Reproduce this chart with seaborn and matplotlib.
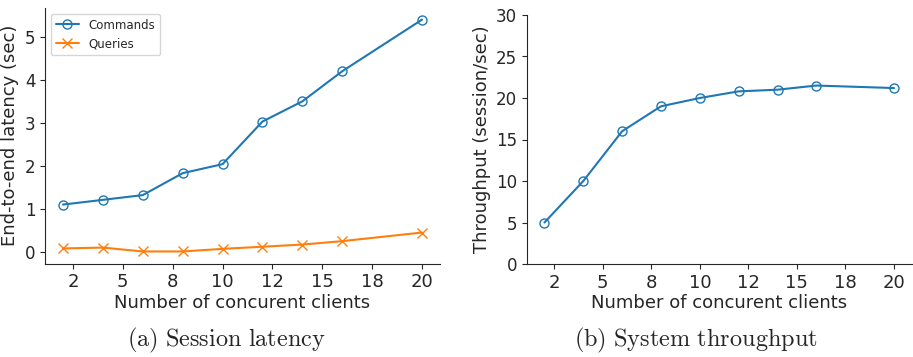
import matplotlib
matplotlib.use("Agg")
import matplotlib.pyplot as plt
import seaborn as sns
import pandas as pd
from matplotlib.ticker import MultipleLocator, FormatStrFormatter

clients = [2, 4, 6, 8, 10, 12, 14, 16, 20]
commands_latency = [1.10, 1.21, 1.32, 1.83, 2.04, 3.03, 3.50, 4.20, 5.40]
queries_latency = [0.08, 0.10, 0.01, 0.01, 0.07, 0.12, 0.17, 0.25, 0.45]
throughput = [5.0, 10.0, 16.0, 19.0, 20.0, 20.8, 21.0, 21.5, 21.2]

sns.set_style("ticks")
plt.rcParams["font.family"] = ["DejaVu Sans"]
plt.rcParams["mathtext.fontset"] = "cm"

blue = "#1f77b4"
orange = "#ff7f0e"

fig = plt.figure(figsize=(9.13, 3.57), dpi=100)
W, H = 913, 357
ax1 = fig.add_axes([45 / W, 1 - 263.5 / H, (440 - 45) / W, (263.5 - 8) / H])
ax2 = fig.add_axes([527 / W, 1 - 264 / H, (911.5 - 527) / W, (264 - 15) / H])

df = pd.DataFrame({"clients": clients, "Commands": commands_latency,
                   "Queries": queries_latency, "Throughput": throughput})

sns.lineplot(data=df, x="clients", y="Commands", ax=ax1, color=blue, marker="o",
             markersize=6.5, markerfacecolor="none", markeredgecolor=blue,
             markeredgewidth=1, label="Commands", lw=1.5)
sns.lineplot(data=df, x="clients", y="Queries", ax=ax1, color=orange, marker="x",
             markersize=6.5, markeredgecolor=orange, markeredgewidth=1,
             label="Queries", lw=1.5)
sns.lineplot(data=df, x="clients", y="Throughput", ax=ax2, color=blue, marker="o",
             markersize=6.5, markerfacecolor="none", markeredgecolor=blue,
             markeredgewidth=1, lw=1.5)

for ax in (ax1, ax2):
    ax.xaxis.set_major_locator(MultipleLocator(2.5))
    ax.xaxis.set_major_formatter(FormatStrFormatter("%.0f"))
    ax.set_xlim(1.1, 20.9)
    ax.set_xlabel("Number of concurent clients", fontsize=13, labelpad=2)
    ax.tick_params(axis="x", labelsize=13)
    ax.tick_params(axis="y", labelsize=12)
    sns.despine(ax=ax)

ax1.set_ylim(-0.27, 5.67)
ax1.yaxis.set_major_locator(MultipleLocator(1))
ax1.set_ylabel("End-to-end latency (sec)", fontsize=13)
ax1.legend(loc="upper left", fontsize=8.5, frameon=True)

ax2.set_ylim(0, 30)
ax2.yaxis.set_major_locator(MultipleLocator(5))
ax2.set_ylabel("Throughput (session/sec)", fontsize=13)

fig.text(226 / W, 1 - 340 / H, r"$\mathrm{(a)\ Session\ latency}$", ha="center",
         va="center", fontsize=17.5)
fig.text(696 / W, 1 - 340 / H, r"$\mathrm{(b)\ System\ throughput}$", ha="center",
         va="center", fontsize=17.5)

fig.savefig("out.png", dpi=100)
